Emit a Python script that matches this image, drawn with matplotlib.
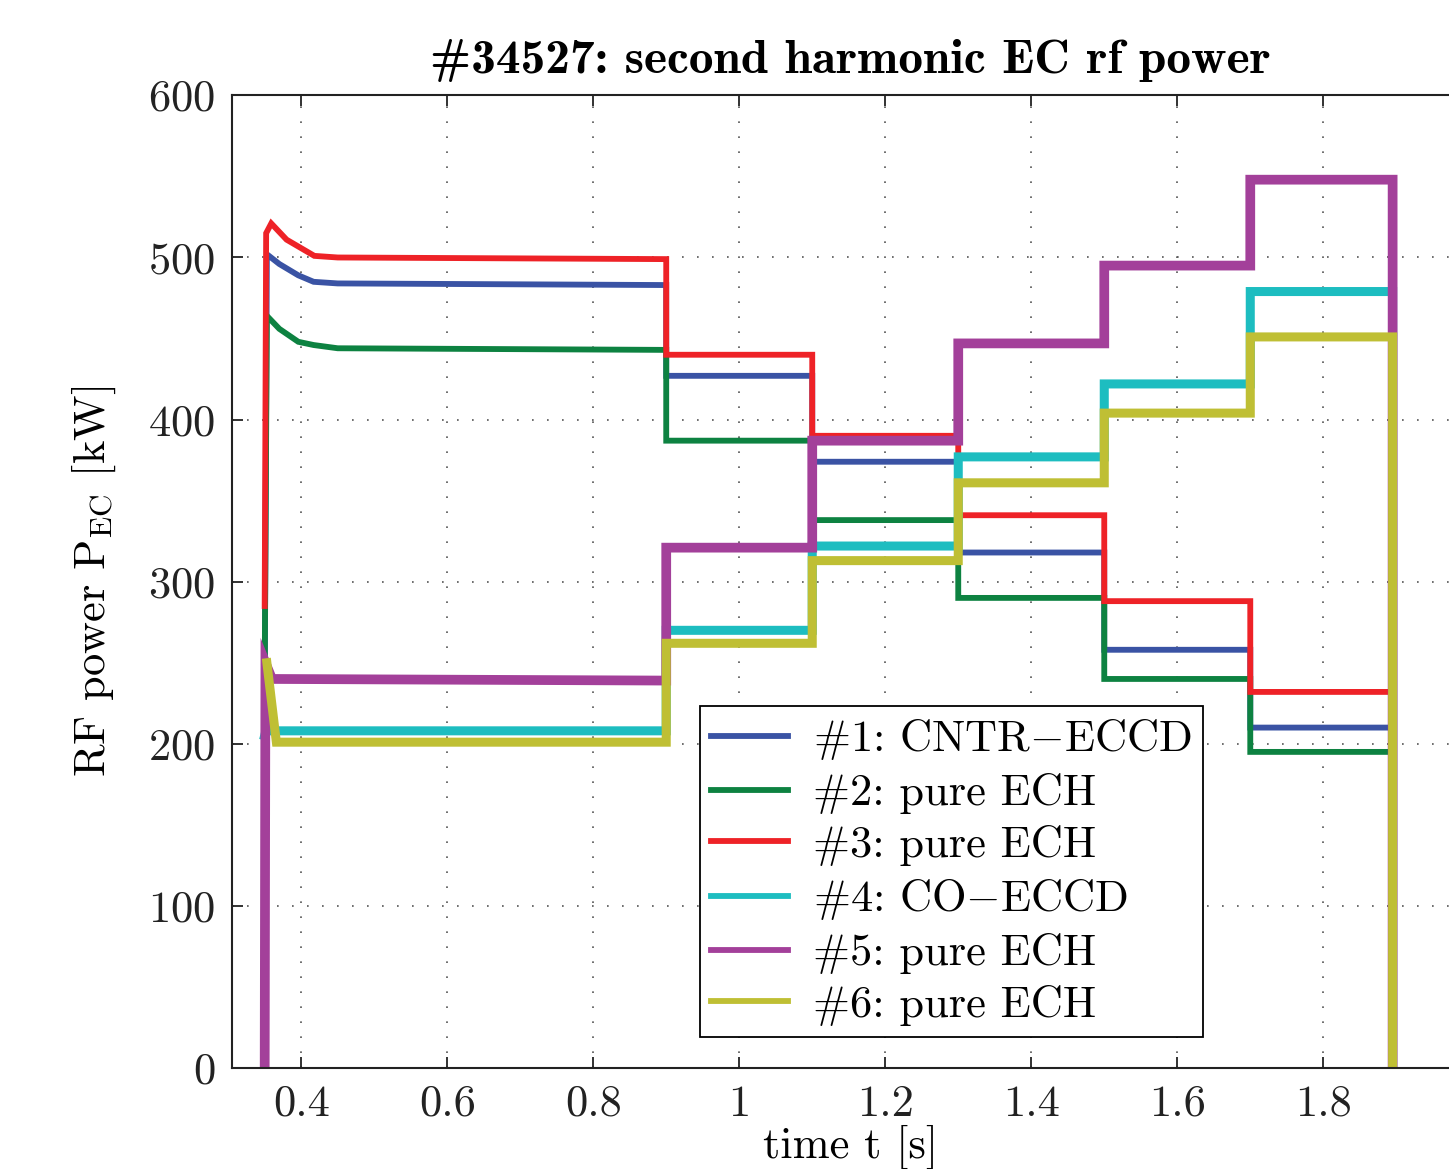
import numpy as np
import matplotlib
matplotlib.use("Agg")
import matplotlib.pyplot as plt

plt.rcParams['font.family'] = 'serif'
plt.rcParams['font.serif'] = ['cmr10', 'DejaVu Serif']
plt.rcParams['mathtext.fontset'] = 'cm'
plt.rcParams['axes.formatter.use_mathtext'] = True

# switching times of the power steps [s], last one = switch off
t_switch = [0.9, 1.1, 1.3, 1.5, 1.7, 1.895]

labels = ['#1: CNTR$-$ECCD', '#2: pure ECH', '#3: pure ECH',
          '#4: CO$-$ECCD', '#5: pure ECH', '#6: pure ECH']
colors = ['#3a53a4', '#0d8241', '#ee2227', '#1dbdc0', '#a3409a', '#bfbf34']
# noisier channels look thicker
widths = [4.2, 4.2, 4.2, 6.5, 7.0, 6.5]

# initial transient (time, power) for each gyrotron
ramp_t = [
    [0.350, 0.353, 0.370, 0.396, 0.417, 0.450],
    [0.350, 0.353, 0.370, 0.396, 0.417, 0.450],
    [0.350, 0.352, 0.359, 0.380, 0.418, 0.450],
    [0.350, 0.354, 0.360],
    [0.350, 0.351, 0.360],
    [0.353, 0.366],
]
ramp_p = [
    [230, 502, 496, 489, 485, 484],
    [245, 464, 456, 448, 446, 444],
    [285, 515, 521, 511, 501, 500],
    [205, 212, 208],
    [0, 250, 240],
    [250, 201],
]
# flat-top power level in each step [kW]
levels = [
    [483, 427, 374, 318, 258, 210],
    [443, 387, 338, 290, 240, 195],
    [499, 440, 390, 341, 288, 232],
    [208, 270, 322, 377, 422, 479],
    [239, 321, 387, 447, 495, 548],
    [201, 262, 313, 361, 404, 451],
]

fig = plt.figure(figsize=(14.49, 11.69), dpi=100)
ax = fig.add_axes([0.160, 0.0864, 0.854, 0.832])

for i in range(6):
    x = list(ramp_t[i])
    y = list(ramp_p[i])
    for k, ts in enumerate(t_switch):
        x += [ts, ts]
        nxt = levels[i][k + 1] if k + 1 < len(levels[i]) else 0
        y += [levels[i][k], nxt]
    ax.plot(x, y, color=colors[i], lw=widths[i], label=labels[i],
            solid_joinstyle='miter')

ax.set_xlim(0.305, 2.0)
ax.set_ylim(0, 600)
ax.set_xticks([0.4, 0.6, 0.8, 1.0, 1.2, 1.4, 1.6, 1.8])
ax.set_xticklabels(['0.4', '0.6', '0.8', '1', '1.2', '1.4', '1.6', '1.8'])
ax.set_yticks([0, 100, 200, 300, 400, 500, 600])
ax.tick_params(direction='in', length=8, width=1.3, labelsize=32,
               top=True, right=True, pad=12, colors='#222222')
ax.grid(True, color='#555555', linestyle=(0, (1, 8)), lw=1.2)
for s in ax.spines.values():
    s.set_linewidth(1.5)
    s.set_color('#222222')

ax.set_xlabel('time t [s]', fontsize=32, labelpad=0)
ax.set_ylabel(r'RF power $\mathrm{P_{EC}}$ [kW]', fontsize=32, labelpad=22)
ax.set_title('#34527: second harmonic EC rf power', fontsize=35.5,
             family='cmb10', pad=16)

leg = ax.legend(loc='lower left', bbox_to_anchor=(0.378, 0.032),
                borderaxespad=0, fontsize=32, fancybox=False,
                edgecolor='black', framealpha=1, handlelength=1.75,
                handletextpad=0.55, labelspacing=0.24, borderpad=0.25)
leg.get_frame().set_linewidth(1.3)
for h in leg.get_lines():
    h.set_linewidth(4.2)

plt.savefig('out.png', dpi=100)
